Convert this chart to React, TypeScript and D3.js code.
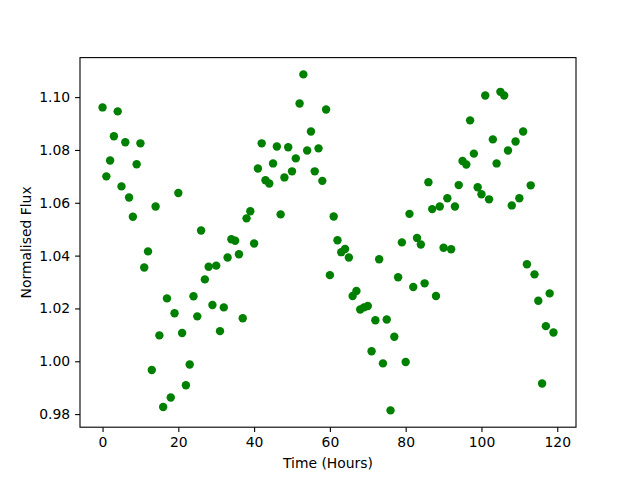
import React, { useRef, useEffect } from "react";
import * as d3 from "d3";

// time in hours, one reading per hour
const hours: number[] = d3.range(0, 120);

// normalised flux, one per hour
const flux: number[] = [
  1.0961, 1.07, 1.076, 1.0852, 1.0946, 1.0662, 1.0829, 1.062, 1.0547, 1.0746,
  1.0825, 1.0355, 1.0416, 0.9967, 1.0586, 1.0098, 0.9827, 1.0238, 0.9863, 1.0182,
  1.0637, 1.0107, 0.9909, 0.9988, 1.0246, 1.017, 1.0495, 1.031, 1.0358, 1.0213,
  1.0362, 1.0114, 1.0204, 1.0393, 1.0462, 1.0456, 1.0405, 1.0163, 1.0541, 1.0568,
  1.0446, 1.073, 1.0825, 1.0685, 1.0673, 1.0749, 1.0813, 1.0556, 1.0696, 1.081,
  1.0719, 1.0768, 1.0976, 1.1086, 1.0798, 1.087, 1.0719, 1.0806, 1.0683, 1.0953,
  1.0326, 1.0548, 1.0458, 1.0413, 1.0425, 1.0393, 1.0247, 1.0266, 1.0196, 1.0204,
  1.0209, 1.0038, 1.0155, 1.0386, 0.9992, 1.0158, 0.9814, 1.0093, 1.0318, 1.045,
  0.9997, 1.0558, 1.0281, 1.0467, 1.0442, 1.0295, 1.0678, 1.0576, 1.0247, 1.0586,
  1.043, 1.0617, 1.0424, 1.0586, 1.0667, 1.0758, 1.0745, 1.0912, 1.0786, 1.0659,
  1.0632, 1.1006, 1.0613, 1.084, 1.0749, 1.102, 1.1006, 1.0798, 1.059, 1.0832,
  1.0617, 1.087, 1.0367, 1.0666, 1.0329, 1.0229, 0.9916, 1.0133, 1.0257, 1.0109,
];

const xTicks = [0, 20, 40, 60, 80, 100, 120];
const yTicks = [0.98, 1.0, 1.02, 1.04, 1.06, 1.08, 1.1];

const xLabel = "Time (Hours)";
const yLabel = "Normalised Flux";

const App: React.FC = () => {
  const svgRef = useRef<SVGSVGElement | null>(null);

  useEffect(() => {
    if (!svgRef.current) return;
    const svg = d3.select(svgRef.current);
    svg.selectAll("*").remove();

    // matplotlib default axes box
    const W = 640;
    const H = 480;
    const left = 80;
    const right = 576;
    const top = 57.6;
    const bottom = 427.2;
    const font = "DejaVu Sans, sans-serif";
    const fs = 13.9;

    svg.attr("width", W).attr("height", H);
    svg.append("rect").attr("width", W).attr("height", H).attr("fill", "#fff");

    // 5% padding like matplotlib autoscale
    const [x0, x1] = d3.extent(hours) as [number, number];
    const [y0, y1] = d3.extent(flux) as [number, number];
    const px = (x1 - x0) * 0.05;
    const py = (y1 - y0) * 0.05;

    const x = d3.scaleLinear().domain([x0 - px, x1 + px]).range([left, right]);
    const y = d3.scaleLinear().domain([y0 - py, y1 + py]).range([bottom, top]);

    // points
    svg
      .append("g")
      .selectAll("circle")
      .data(hours.map((h, i) => ({ h, f: flux[i] })))
      .enter()
      .append("circle")
      .attr("cx", (d) => x(d.h))
      .attr("cy", (d) => y(d.f))
      .attr("r", 4.2)
      .attr("fill", "#008000");

    // axes
    const xAxis = svg
      .append("g")
      .attr("transform", `translate(0,${bottom})`)
      .call(
        d3
          .axisBottom(x)
          .tickValues(xTicks)
          .tickFormat(d3.format("d") as any)
          .tickSize(4.9)
          .tickPadding(4.9)
      );
    const yAxis = svg
      .append("g")
      .attr("transform", `translate(${left},0)`)
      .call(
        d3
          .axisLeft(y)
          .tickValues(yTicks)
          .tickFormat(d3.format(".2f") as any)
          .tickSize(4.9)
          .tickPadding(4.9)
      );

    [xAxis, yAxis].forEach((a) => {
      a.select(".domain").remove();
      a.selectAll(".tick line").attr("stroke", "#000").attr("stroke-width", 1.1);
      a.selectAll(".tick text")
        .attr("fill", "#000")
        .style("font-family", font)
        .style("font-size", `${fs}px`);
    });

    // frame
    svg
      .append("rect")
      .attr("x", left)
      .attr("y", top)
      .attr("width", right - left)
      .attr("height", bottom - top)
      .attr("fill", "none")
      .attr("stroke", "#000")
      .attr("stroke-width", 1.1);

    // labels
    svg
      .append("text")
      .attr("x", (left + right) / 2)
      .attr("y", 468)
      .attr("text-anchor", "middle")
      .style("font-family", font)
      .style("font-size", `${fs}px`)
      .text(xLabel);

    svg
      .append("text")
      .attr("transform", `translate(31,${(top + bottom) / 2}) rotate(-90)`)
      .attr("text-anchor", "middle")
      .style("font-family", font)
      .style("font-size", `${fs}px`)
      .text(yLabel);
  }, []);

  return (
    <div style={{ position: "absolute", left: 0, top: 0 }}>
      <svg ref={svgRef}></svg>
    </div>
  );
};

export default App;
